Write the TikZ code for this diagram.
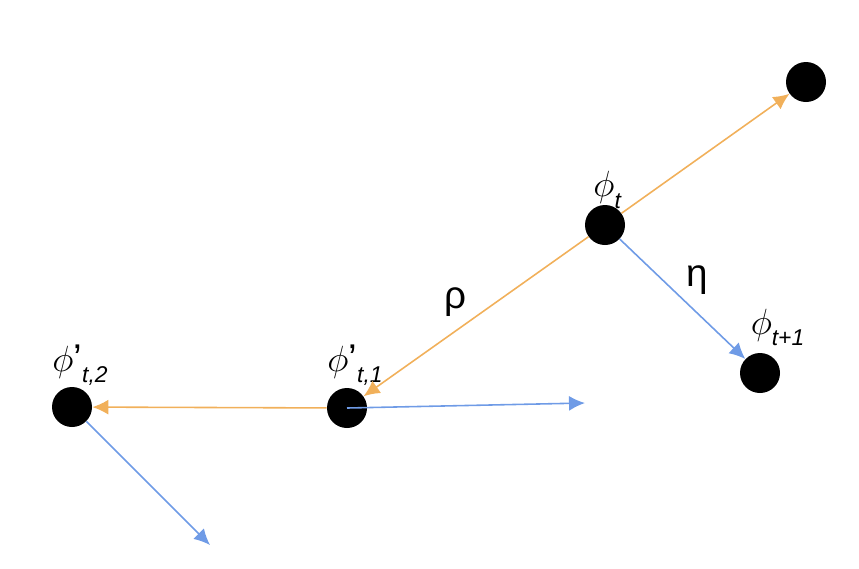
\documentclass[tikz,border=0pt]{standalone}
\usepackage{fontspec}
\setmainfont{Liberation Sans}
\usetikzlibrary{arrows.meta}
\definecolor{stepor}{HTML}{F1B05A}
\definecolor{stepbl}{HTML}{6F9BE6}
\newcommand{\phlab}[2]{{\fontsize{22}{24}\selectfont$\phi$#1}\raisebox{-1.2ex}{\fontsize{13}{14}\selectfont\textit{#2}}}
\begin{document}
\begin{tikzpicture}
[   pnode/.style={circle,fill=black,minimum size=8mm,inner sep=0pt},
    orarr/.style={stepor,line width=0.9pt,-{Latex[length=3.2mm,width=3mm]}},
    blarr/.style={stepbl,line width=0.9pt,-{Latex[length=3.2mm,width=3mm]}},
    lab/.style={inner sep=0pt},
]
    \useasboundingbox (0,0) rectangle (17.18,-11.36);
    % points
    \node[pnode] (pt) at (12.10,-4.50) {};
    \node[pnode] (pu) at (16.12,-1.64) {};
    \node[pnode] (pn) at (15.20,-7.46) {};
    \node[pnode] (p1) at (6.94,-8.16) {};
    \node[pnode] (p2) at (1.44,-8.14) {};
    \coordinate (e1) at (11.70,-8.06);
    \coordinate (e2) at (4.20,-10.90);
    % labels
    \node[lab] at (12.15,-3.80) {\phlab{}{t}};
    \node[lab] at (15.55,-6.55) {\phlab{}{t+1}};
    \node[lab] at (7.10,-7.30) {\phlab{'}{t,1}};
    \node[lab] at (1.60,-7.30) {\phlab{'}{t,2}};
    \node[lab] at (9.10,-6.05) {\fontsize{22}{24}\selectfont ρ};
    \node[lab] at (13.95,-5.60) {\fontsize{22}{24}\selectfont η};
    % steps
    \draw[orarr] (pt) -- (pu);
    \draw[orarr] (pt) -- (p1);
    \draw[orarr] (p1) -- (p2);
    \draw[blarr] (pt) -- (pn);
    \draw[blarr] (p1.center) -- (e1);
    \draw[blarr] (p2) -- (e2);
\end{tikzpicture}
\end{document}
